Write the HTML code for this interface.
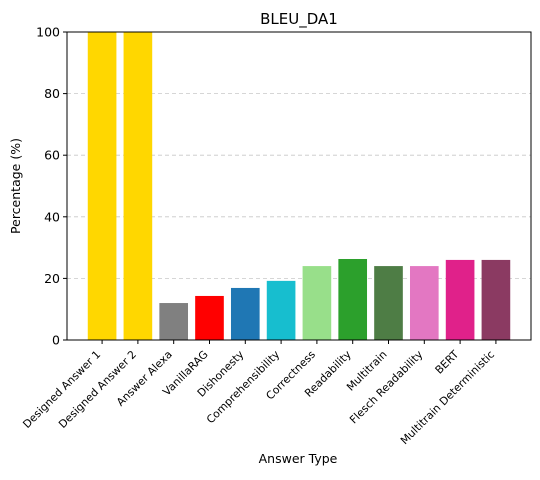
<!DOCTYPE html>
<html><head><meta charset="utf-8"><style>
body{margin:0;background:#fff;font-family:"DejaVu Sans",sans-serif}
svg text{font-family:"DejaVu Sans","Liberation Sans",sans-serif}
</style></head><body>
<svg id="chart" width="540" height="476">
<text x="299" y="24" font-size="15" text-anchor="middle">BLEU_DA1</text>
<g id="grid"></g><g id="bars"></g><g id="axes"></g>
<text x="298" y="463" font-size="12.5" text-anchor="middle">Answer Type</text>
<text transform="translate(20,186) rotate(-90)" font-size="12.5" text-anchor="middle">Percentage (%)</text>
</svg>
<script>
const categories=["Designed Answer 1","Designed Answer 2","Answer Alexa","VanillaRAG","Dishonesty","Comprehensibility","Correctness","Readability","Multitrain","Flesch Readability","BERT","Multitrain Deterministic"];
const values=[100,100,12,14.3,16.9,19.2,24,26.3,24,24,26,26];
const colors=["#ffd700","#ffd700","#808080","#ff0000","#1f77b4","#17becf","#98df8a","#2ca02c","#4e7d45","#e377c2","#e0218a","#8b3a62"];
const yTicks=[0,20,40,60,80,100];
const NS="http://www.w3.org/2000/svg";
const L=67,R=531,T=32,B=340;
const y=v=>B-(v/100)*(B-T);
const n=categories.length;
const step=(R-L)/(n+0.96);
const x=i=>L+step*0.98+i*step;
function mk(t,a,p){const e=document.createElementNS(NS,t);for(const k in a)e.setAttribute(k,a[k]);p.appendChild(e);return e;}
const g=document.getElementById('grid'),b=document.getElementById('bars'),ax=document.getElementById('axes');
yTicks.forEach(v=>{
 const ln=mk('line',{x1:L,x2:R,y1:y(v),y2:y(v),stroke:'#c8c8c8','stroke-dasharray':'4,3','stroke-width':0.8},g);
 
 
 const tk=mk('line',{x1:L-4,x2:L,y1:y(v),y2:y(v),stroke:'#000'},ax);
 
 
 const t=mk('text',{x:L-7,y:y(v)+4.5,'font-size':12.5,'text-anchor':'end'},ax);t.textContent=v;
 
 
});
const bw=step*0.8;
categories.forEach((c,i)=>{
 const cx=x(i);
 const r=mk('rect',{x:cx-bw/2,y:y(values[i]),width:bw,height:B-y(values[i]),fill:colors[i]},b);
 
 
 const tk=mk('line',{x1:cx,x2:cx,y1:B,y2:B+4,stroke:'#000'},ax);
 
 
 const t=mk('text',{transform:`translate(${cx-1},${B+15}) rotate(-45)`,'font-size':10.8,'text-anchor':'end'},ax);t.textContent=c;
 
 
});
const fr=mk('rect',{x:L,y:T,width:R-L,height:B-T,fill:'none',stroke:'#000','stroke-width':1},ax);


</script>
</body></html>
